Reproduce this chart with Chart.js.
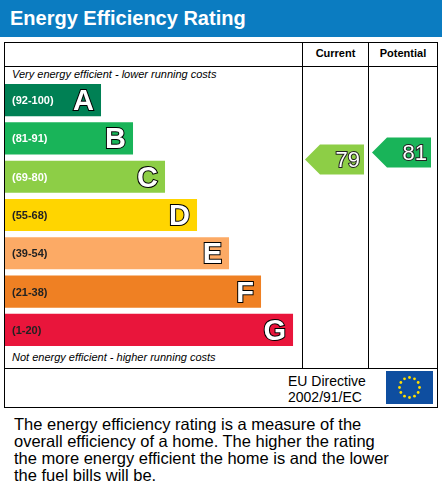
<!DOCTYPE html>
<html><head><meta charset="utf-8">
<script src="https://cdn.jsdelivr.net/npm/chart.js@4/dist/chart.umd.min.js"></script>
<style>
body{margin:0;width:442px;height:486px;position:relative;font-family:"Liberation Sans",Arial,sans-serif;background:#fff;overflow:hidden}
#title{position:absolute;left:0;top:0;width:442px;height:37px;background:#0b7cc1;color:#fff;font-weight:bold;font-size:20px;line-height:37px;padding-left:10px;box-sizing:border-box}
#box{position:absolute;left:4px;top:42px;width:434px;height:366px;border:1px solid #000;box-sizing:border-box}
.t{position:absolute;white-space:nowrap}
#para{position:absolute;left:14px;top:416px;font-size:16.5px;line-height:17px;color:#000;width:385px}
canvas{position:absolute;left:0;top:0}
</style></head><body>
<div id="title">Energy Efficiency Rating</div>
<div id="box"></div>
<div class="t" style="left:4px;top:66px;width:434px;border-top:1px solid #000"></div>
<div class="t" style="left:4px;top:368px;width:434px;border-top:1px solid #000"></div>
<div class="t" style="left:302px;top:42px;height:326px;border-left:1px solid #000"></div>
<div class="t" style="left:368px;top:42px;height:326px;border-left:1px solid #000"></div>
<div class="t" style="left:303px;top:47px;width:65px;text-align:center;font-weight:bold;font-size:11px">Current</div>
<div class="t" style="left:369px;top:47px;width:68px;text-align:center;font-weight:bold;font-size:11px">Potential</div>
<div class="t" style="left:12px;top:68px;font-style:italic;font-size:11px">Very energy efficient - lower running costs</div>
<div class="t" style="left:12px;top:351px;font-style:italic;font-size:11px">Not energy efficient - higher running costs</div>
<div class="t" style="left:288px;top:373px;font-size:14px;line-height:16px">EU Directive<br>2002/91/EC</div>
<svg class="t" style="left:386px;top:371px" width="47" height="33" viewBox="0 0 47 33"><rect width="47" height="33" fill="#0e4ea0"/><g fill="#ffdd00" id="stars"></g></svg>
<div id="para">The energy efficiency rating is a measure of the overall efficiency of a home. The higher the rating the more energy efficient the home is and the lower the fuel bills will be.</div>
<canvas id="c" width="442" height="486"></canvas>
<script>
const bands=["A","B","C","D","E","F","G"];
const ranges=["(92-100)","(81-91)","(69-80)","(55-68)","(39-54)","(21-38)","(1-20)"];
const bandLength=[3,4,5,6,7,8,9];
const colors=["#008054","#19b459","#8dce46","#ffd500","#fcaa65","#ef8023","#e9153b"];
const currentRating=79, potentialRating=81;
const currentColor="#8dce46", potentialColor="#19b459";
const g=document.getElementById('stars');
for(let i=0;i<12;i++){const a=i*Math.PI/6;const s=document.createElementNS("http://www.w3.org/2000/svg","circle");s.setAttribute("cx",23.5+10*Math.cos(a));s.setAttribute("cy",16.5+10*Math.sin(a));s.setAttribute("r",1.4);g.appendChild(s);}
function ratingIndex(v){return 8.66-0.09*v;}
const deco={id:'deco',afterDatasetsDraw(ch){
 const c=ch.ctx,y=ch.scales.y;
 ch.getDatasetMeta(0).data.forEach((b,i)=>{
  c.save();c.font="bold 11px 'Liberation Sans',Arial";c.fillStyle=i>=3?"#222":"#fff";
  c.textBaseline="middle";c.fillText(ranges[i],12,b.y+1);
  c.font="bold 29px 'Liberation Sans',Arial";c.textAlign="right";c.lineWidth=2;c.strokeStyle="#000";c.fillStyle="#fff";
  c.strokeText(bands[i],b.x-7,b.y+2);c.fillText(bands[i],b.x-7,b.y+2);c.restore();
 });
 function arrow(v,x0,x1,col){const cy=y.getPixelForValue(ratingIndex(v));const h=15;c.save();c.fillStyle=col;c.beginPath();
  c.moveTo(x0,cy);c.lineTo(x0+15,cy-h);c.lineTo(x1,cy-h);c.lineTo(x1,cy+h);c.lineTo(x0+15,cy+h);c.closePath();c.fill();
  c.font="22px 'Liberation Sans',Arial";c.textAlign="right";c.textBaseline="middle";c.lineWidth=2;c.strokeStyle="#222";c.fillStyle="#fff";
  c.strokeText(String(v),x1-4,cy+1);c.fillText(String(v),x1-4,cy+1);c.restore();}
 arrow(currentRating,305,364,currentColor);
 arrow(potentialRating,372,431,potentialColor);
}};
new Chart(document.getElementById('c'),{type:'bar',
 data:{labels:bands,datasets:[{data:bandLength,backgroundColor:colors,barPercentage:0.84,categoryPercentage:1}]},
 options:{indexAxis:'y',responsive:false,animation:false,events:[],
  layout:{padding:{left:5,right:140,top:81,bottom:137}},
  plugins:{legend:{display:false},tooltip:{enabled:false}},
  scales:{x:{display:false,min:0,max:9.28},y:{display:false}}},
 plugins:[deco]});
</script></body></html>
